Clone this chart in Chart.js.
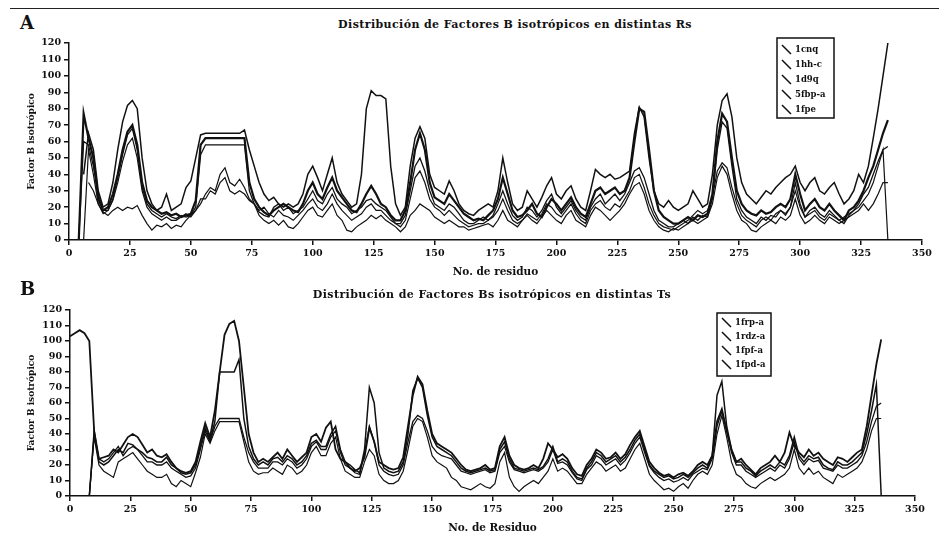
<!DOCTYPE html>
<html lang="es">

<head>
    <meta charset="UTF-8">
    <meta name="viewport" content="width=device-width, initial-scale=1.0">
    <title>Factores B isotrópicos</title>
    <script src="https://cdn.jsdelivr.net/npm/chart.js"></script>
    <style>
        body { margin: 0; background: #fff; }
        #pagina { position: relative; width: 939px; height: 536px; overflow: hidden; font-family: "DejaVu Serif", serif; color: #111; }
        .borde { position: absolute; top: 8px; left: 10px; width: 929px; border-top: 1.5px solid #222; }
        .letra { position: absolute; font-weight: bold; font-size: 18px; line-height: 18px; }
        .titulo { position: absolute; font-weight: bold; font-size: 11px; letter-spacing: 0.4px; line-height: 12px; white-space: nowrap; transform: translateX(-50%); }
        canvas { position: absolute; left: 0; }
    </style>
</head>

<body>
    <div id="pagina">
        <div class="borde"></div>
        <div class="letra" style="left:20px; top:14px;">A</div>
        <div class="titulo" style="left:515px; top:19px;">Distribución de Factores B isotrópicos en distintas Rs</div>
        <canvas id="graficoA" width="939" height="280" style="top:0"></canvas>
        <div class="letra" style="left:20px; top:280px;">B</div>
        <div class="titulo" style="left:492px; top:289px;">Distribución de Factores Bs isotrópicos en distintas Ts</div>
        <canvas id="graficoB" width="939" height="256" style="top:280px"></canvas>
    </div>
    <script>
        // número de residuo (cada 2)
        const residuos = [
            0, 2, 4, 6, 8, 10, 12, 14, 16, 18, 20, 22, 24, 26, 28, 30, 32, 34, 36, 38, 40,
            42, 44, 46, 48, 50, 52, 54, 56, 58, 60, 62, 64, 66, 68, 70, 72, 74, 76, 78, 80,
            82, 84, 86, 88, 90, 92, 94, 96, 98, 100, 102, 104, 106, 108, 110, 112, 114, 116, 118, 120,
            122, 124, 126, 128, 130, 132, 134, 136, 138, 140, 142, 144, 146, 148, 150, 152, 154, 156, 158, 160,
            162, 164, 166, 168, 170, 172, 174, 176, 178, 180, 182, 184, 186, 188, 190, 192, 194, 196, 198, 200,
            202, 204, 206, 208, 210, 212, 214, 216, 218, 220, 222, 224, 226, 228, 230, 232, 234, 236, 238, 240,
            242, 244, 246, 248, 250, 252, 254, 256, 258, 260, 262, 264, 266, 268, 270, 272, 274, 276, 278, 280,
            282, 284, 286, 288, 290, 292, 294, 296, 298, 300, 302, 304, 306, 308, 310, 312, 314, 316, 318, 320,
            322, 324, 326, 328, 330, 332, 334, 336
        ];

        const etiquetasR = ['1cnq', '1hh-c', '1d9q', '5fbp-a', '1fpe'];
        const etiquetasT = ['1frp-a', '1rdz-a', '1fpf-a', '1fpd-a'];
        const ticksY = [0, 10, 20, 30, 40, 50, 60, 70, 80, 90, 100, 110, 120];
        const ticksX = [0, 25, 50, 75, 100, 125, 150, 175, 200, 225, 250, 275, 300, 325, 350];

        // --- estados R ---
        const r1cnq = [null,
            null, 0, 77, 62, 50, 25, 18, 20, 28, 40,
            55, 66, 70, 58, 35, 24, 20, 18, 16, 17,
            15, 16, 14, 15, 16, 24, 58, 62, 62, 62,
            62, 62, 62, 62, 62, 62, 35, 25, 20, 17,
            15, 18, 20, 22, 20, 18, 17, 22, 30, 35,
            28, 25, 32, 38, 30, 26, 22, 18, 17, 22,
            28, 33, 28, 22, 20, 15, 12, 12, 18, 35,
            55, 65, 55, 35, 26, 24, 22, 28, 24, 20,
            16, 14, 12, 13, 12, 15, 18, 25, 38, 28,
            18, 14, 15, 18, 22, 16, 14, 20, 25, 22,
            18, 22, 26, 20, 16, 14, 22, 30, 32, 28,
            30, 32, 28, 30, 38, 60, 80, 78, 55, 30,
            18, 14, 12, 10, 10, 12, 14, 12, 15, 14,
            16, 28, 60, 77, 72, 50, 30, 22, 18, 16,
            15, 18, 16, 17, 20, 22, 20, 25, 40, 28,
            18, 22, 25, 20, 18, 22, 18, 15, 12, 18,
            20, 24, 30, 38, 45, 55, 65, 73
        ];
        const r1hhc = [null,
            null, null, 40, 65, 55, 30, 20, 22, 35, 55,
            72, 82, 85, 80, 50, 30, 22, 18, 20, 28,
            18, 20, 22, 32, 36, 50, 64, 65, 65, 65,
            65, 65, 65, 65, 65, 67, 55, 45, 35, 28,
            24, 26, 22, 20, 22, 20, 22, 28, 40, 45,
            38, 30, 40, 50, 35, 28, 24, 20, 22, 40,
            80, 91, 88, 88, 86, 45, 22, 15, 20, 45,
            62, 69, 62, 40, 32, 30, 28, 36, 30, 22,
            18, 16, 15, 18, 20, 22, 20, 30, 50, 35,
            22, 18, 20, 30, 25, 20, 26, 33, 38, 28,
            25, 30, 33, 25, 20, 18, 30, 43, 40, 38,
            40, 37, 38, 40, 42, 65, 81, 75, 50, 30,
            22, 20, 24, 20, 18, 20, 22, 30, 25, 20,
            22, 40, 70, 85, 89, 75, 50, 35, 28, 25,
            22, 26, 30, 28, 32, 35, 38, 40, 45, 35,
            30, 35, 38, 30, 28, 32, 35, 28, 22, 25,
            30, 40, 35, 45, 62, 80, 100, 120
        ];
        const r1d9q = [null,
            null, 0, 60, 58, 45, 28, 18, 18, 25, 38,
            52, 64, 68, 55, 32, 22, 18, 16, 14, 16,
            14, 13, 15, 14, 15, 20, 52, 58, 58, 58,
            58, 58, 58, 58, 58, 58, 30, 22, 17, 15,
            14, 20, 22, 18, 20, 16, 18, 20, 25, 30,
            24, 22, 28, 32, 25, 22, 20, 16, 18, 20,
            24, 25, 22, 20, 18, 14, 10, 10, 15, 30,
            45, 50, 42, 30, 22, 20, 18, 22, 20, 16,
            12, 10, 10, 12, 14, 12, 15, 22, 30, 22,
            15, 12, 14, 20, 18, 14, 18, 24, 28, 20,
            16, 20, 24, 18, 14, 12, 20, 25, 28, 22,
            25, 28, 24, 28, 35, 42, 44, 38, 28, 18,
            12, 10, 8, 8, 10, 12, 10, 14, 12, 15,
            14, 25, 55, 72, 68, 45, 25, 18, 14, 12,
            10, 14, 12, 15, 14, 18, 16, 20, 35, 22,
            14, 18, 20, 16, 14, 18, 15, 12, 10, 15,
            18, 22, 28, 32, 40, 48, 55, 57
        ];
        const r5fbp = [null,
            null, null, null, 35, 30, 22, 17, 15, 18, 20,
            18, 20, 19, 21, 15, 10, 6, 9, 8, 10,
            7, 9, 8, 12, 15, 18, 22, 28, 32, 30,
            40, 44, 35, 33, 37, 32, 25, 22, 15, 12,
            10, 12, 9, 12, 8, 7, 10, 14, 18, 20,
            15, 14, 18, 22, 15, 12, 6, 5, 8, 10,
            12, 15, 13, 15, 12, 10, 8, 5, 8, 15,
            18, 22, 20, 18, 14, 12, 10, 12, 10, 8,
            8, 6, 7, 8, 9, 10, 8, 12, 18, 12,
            10, 8, 12, 15, 12, 10, 14, 18, 15, 12,
            10, 15, 18, 12, 10, 8, 15, 20, 18, 15,
            12, 15, 18, 22, 28, 33, 35, 28, 18, 12,
            8, 6, 5, 7, 6, 8, 10, 12, 10, 12,
            14, 22, 38, 45, 40, 28, 18, 12, 10, 6,
            5, 8, 10, 12, 10, 14, 12, 15, 25, 15,
            10, 12, 15, 12, 10, 14, 12, 10, 12, 14,
            16, 18, 22, 18, 22, 28, 35, 35
        ];
        const r1fpe = [null,
            null, null, 0, 55, 40, 22, 16, 18, 24, 35,
            48, 58, 62, 50, 30, 20, 16, 14, 12, 14,
            12, 12, 14, 16, 14, 18, 25, 25, 30, 28,
            35, 38, 30, 28, 30, 28, 24, 22, 18, 20,
            16, 14, 18, 15, 14, 12, 15, 18, 22, 25,
            20, 18, 22, 28, 22, 18, 15, 12, 14, 16,
            20, 22, 18, 18, 15, 12, 10, 8, 12, 25,
            38, 42, 35, 25, 20, 18, 15, 18, 15, 12,
            10, 8, 9, 10, 10, 12, 14, 18, 25, 18,
            12, 10, 12, 16, 14, 12, 16, 22, 20, 16,
            14, 18, 22, 16, 12, 10, 18, 22, 24, 20,
            18, 22, 20, 25, 30, 38, 40, 32, 22, 15,
            10, 8, 7, 6, 8, 10, 12, 15, 18, 16,
            18, 26, 42, 47, 44, 32, 22, 15, 12, 10,
            8, 12, 14, 12, 16, 18, 15, 20, 30, 20,
            14, 16, 18, 14, 12, 16, 14, 12, 14, 16,
            18, 20, 24, 28, 35, 45, 55, 0
        ];

        // --- estados T ---
        const t1frp = [103,
            105, 107, 105, 100, 42, 24, 25, 26, 30, 28,
            33, 38, 40, 38, 33, 28, 30, 26, 25, 27,
            22, 18, 16, 15, 16, 22, 35, 47, 38, 55,
            80, 104, 111, 113, 100, 70, 40, 28, 22, 24,
            22, 25, 28, 24, 30, 26, 22, 25, 28, 38,
            40, 35, 44, 48, 30, 24, 22, 18, 16, 18,
            25, 44, 35, 22, 20, 18, 17, 18, 25, 45,
            65, 77, 72, 55, 40, 34, 32, 30, 28, 24,
            20, 17, 16, 17, 18, 20, 17, 18, 32, 38,
            26, 20, 18, 17, 18, 20, 18, 24, 34, 30,
            25, 27, 24, 18, 14, 13, 20, 24, 30, 28,
            24, 25, 28, 24, 27, 33, 38, 42, 32, 22,
            18, 15, 13, 14, 12, 14, 15, 13, 16, 20,
            22, 20, 26, 48, 56, 42, 30, 22, 24, 20,
            17, 14, 18, 20, 22, 26, 22, 28, 41, 32,
            28, 25, 30, 26, 28, 24, 22, 20, 25, 24,
            22, 25, 28, 30, 45, 65, 85, 101
        ];
        const t1rdz = [null,
            null, null, null, 0, 42, 22, 20, 22, 26, 30,
            28, 34, 33, 30, 28, 25, 24, 22, 22, 25,
            20, 18, 15, 14, 15, 20, 32, 44, 36, 48,
            80, 80, 80, 80, 88, 50, 32, 24, 20, 22,
            20, 24, 25, 22, 26, 24, 20, 22, 26, 34,
            36, 32, 32, 40, 45, 30, 22, 20, 17, 15,
            30, 70, 60, 28, 18, 16, 15, 16, 22, 40,
            68, 76, 70, 52, 38, 32, 30, 28, 26, 22,
            18, 16, 15, 16, 17, 18, 16, 17, 30, 35,
            24, 18, 17, 16, 17, 18, 17, 19, 24, 32,
            22, 24, 22, 16, 12, 11, 18, 22, 28, 26,
            22, 24, 26, 22, 25, 30, 36, 40, 30, 20,
            16, 14, 12, 13, 11, 12, 14, 12, 15, 18,
            20, 18, 26, 65, 74, 45, 30, 22, 22, 18,
            16, 13, 16, 18, 20, 18, 22, 20, 26, 38,
            26, 22, 26, 24, 25, 20, 18, 17, 22, 20,
            20, 22, 25, 28, 40, 55, 72, 0
        ];
        const t1fpf = [null,
            null, null, null, 0, 40, 24, 22, 24, 28, 32,
            26, 30, 32, 30, 26, 22, 22, 20, 20, 22,
            18, 16, 14, 12, 13, 18, 30, 42, 35, 45,
            50, 50, 50, 50, 50, 38, 28, 22, 18, 18,
            18, 22, 22, 20, 24, 22, 18, 20, 24, 32,
            35, 30, 30, 38, 42, 28, 20, 18, 15, 14,
            28, 45, 35, 20, 16, 14, 13, 14, 20, 35,
            48, 52, 50, 42, 32, 28, 26, 25, 24, 20,
            16, 15, 14, 15, 16, 17, 15, 16, 28, 32,
            22, 17, 16, 15, 16, 17, 16, 18, 22, 30,
            21, 22, 20, 15, 11, 10, 17, 20, 26, 24,
            20, 22, 24, 20, 23, 28, 34, 38, 28, 19,
            15, 12, 10, 11, 9, 10, 12, 10, 14, 16,
            18, 17, 24, 45, 55, 42, 28, 20, 20, 16,
            14, 12, 14, 16, 18, 16, 20, 18, 24, 35,
            24, 20, 24, 22, 23, 18, 17, 16, 20, 18,
            18, 20, 22, 26, 35, 48, 58, 60
        ];
        const t1fpd = [null,
            null, null, null, 0, 38, 20, 16, 14, 12, 22,
            24, 26, 28, 24, 20, 16, 14, 12, 12, 14,
            8, 6, 10, 8, 6, 15, 25, 40, 34, 42,
            48, 48, 48, 48, 48, 35, 22, 16, 14, 15,
            15, 18, 16, 14, 20, 18, 14, 16, 20, 28,
            32, 26, 26, 34, 38, 24, 16, 14, 12, 12,
            22, 30, 26, 14, 10, 8, 8, 10, 16, 30,
            45, 50, 48, 38, 26, 22, 20, 18, 12, 10,
            6, 5, 4, 6, 8, 6, 5, 8, 22, 28,
            12, 6, 3, 6, 8, 10, 8, 12, 16, 24,
            16, 18, 16, 12, 8, 8, 14, 18, 22, 20,
            16, 18, 20, 16, 18, 24, 30, 34, 24, 14,
            10, 7, 4, 5, 3, 6, 8, 5, 10, 14,
            16, 14, 20, 40, 52, 38, 22, 14, 12, 8,
            6, 5, 8, 10, 12, 10, 12, 14, 18, 30,
            18, 14, 18, 14, 16, 12, 10, 8, 14, 12,
            14, 16, 18, 22, 30, 42, 50, 50
        ];

        const tinta = '#111';
        const fuenteEjes = { family: 'DejaVu Serif', weight: 'bold', size: 9.5 };

        // recuadro de leyenda con trazo diagonal
        const cajaLeyenda = {
            id: 'cajaLeyenda',
            afterDraw(chart, args, opts) {
                const ctx = chart.ctx;
                ctx.save();
                ctx.strokeStyle = tinta;
                ctx.fillStyle = tinta;
                ctx.lineWidth = 1.5;
                ctx.strokeRect(opts.x, opts.y, opts.w, opts.h);
                ctx.font = 'bold 8.5px "DejaVu Serif"';
                ctx.textBaseline = 'middle';
                chart.data.datasets.forEach((ds, i) => {
                    const cy = opts.y + opts.primera + i * opts.fila;
                    ctx.beginPath();
                    ctx.moveTo(opts.x + 5, cy - 5);
                    ctx.lineTo(opts.x + 14, cy + 4);
                    ctx.stroke();
                    ctx.fillText(ds.label, opts.x + 18, cy);
                });
                ctx.restore();
            }
        };

        function serie(etiqueta, valores, ancho) {
            return {
                label: etiqueta,
                data: residuos.map((r, i) => ({ x: r, y: valores[i] })),
                borderColor: tinta,
                borderWidth: ancho,
                pointRadius: 0,
                tension: 0,
                spanGaps: false
            };
        }

        function crearGrafico(id, datasets, tituloX, geo, leyenda) {
            const ctx = document.getElementById(id).getContext('2d');
            return new Chart(ctx, {
                type: 'line',
                data: { datasets: datasets },
                options: {
                    responsive: false,
                    animation: false,
                    layout: { padding: { top: geo.arriba, left: geo.izq, right: geo.der, bottom: 0 } },
                    plugins: {
                        legend: { display: false },
                        tooltip: { enabled: false },
                        cajaLeyenda: leyenda
                    },
                    scales: {
                        x: {
                            type: 'linear',
                            min: ticksX[0],
                            max: ticksX[ticksX.length - 1],
                            afterFit: s => { s.height = geo.altoX; },
                            afterBuildTicks: s => { s.ticks = ticksX.map(v => ({ value: v })); },
                            ticks: { font: fuenteEjes, color: tinta, padding: 3, maxRotation: 0, autoSkip: false },
                            grid: { drawOnChartArea: false, drawTicks: true, tickLength: 5, color: tinta, lineWidth: 1.5 },
                            border: { color: tinta, width: 1.5 },
                            title: { display: true, text: tituloX, color: tinta, font: { family: 'DejaVu Serif', weight: 'bold', size: 10.5 }, padding: { top: 0, bottom: 1 } }
                        },
                        y: {
                            min: 0,
                            max: 120,
                            afterFit: s => { s.width = geo.anchoY; },
                            afterBuildTicks: s => { s.ticks = ticksY.map(v => ({ value: v })); },
                            ticks: { font: fuenteEjes, color: tinta, padding: 3, autoSkip: false },
                            grid: { drawOnChartArea: false, drawTicks: true, tickLength: 5, color: tinta, lineWidth: 1.5 },
                            border: { color: tinta, width: 1.5 },
                            title: { display: true, text: 'Factor B isotrópico', color: tinta, font: { family: 'DejaVu Serif', weight: 'bold', size: 9 }, padding: { top: 4, bottom: 0 } }
                        }
                    }
                },
                plugins: [cajaLeyenda]
            });
        }

        document.addEventListener('DOMContentLoaded', () => {
            crearGrafico('graficoA', [
                serie(etiquetasR[0], r1cnq, 2.2),
                serie(etiquetasR[1], r1hhc, 1.5),
                serie(etiquetasR[2], r1d9q, 1.3),
                serie(etiquetasR[3], r5fbp, 1.2),
                serie(etiquetasR[4], r1fpe, 1.2)
            ], 'No. de residuo',
                { arriba: 43, izq: 22, der: 17, anchoY: 47, altoX: 40 },
                { x: 777, y: 38, w: 57, h: 80, primera: 12, fila: 15 });

            crearGrafico('graficoB', [
                serie(etiquetasT[0], t1frp, 1.8),
                serie(etiquetasT[1], t1rdz, 1.5),
                serie(etiquetasT[2], t1fpf, 1.3),
                serie(etiquetasT[3], t1fpd, 1.2)
            ], 'No. de Residuo',
                { arriba: 30, izq: 22, der: 24, anchoY: 48, altoX: 40 },
                { x: 717, y: 33, w: 54, h: 63, primera: 10, fila: 14 });
        });
    </script>
</body>

</html>
